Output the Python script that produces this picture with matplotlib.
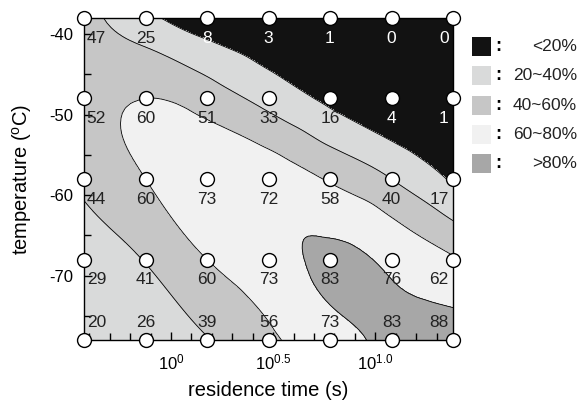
import numpy as np
import matplotlib
matplotlib.use('Agg')
from matplotlib import pyplot as plt
import matplotlib.tri as mtri
from matplotlib.patches import Rectangle
from matplotlib.ticker import MultipleLocator

plt.rcParams['font.family'] = ['Liberation Sans', 'DejaVu Sans']
plt.rcParams['mathtext.fontset'] = 'custom'
plt.rcParams['mathtext.rm'] = 'Liberation Sans'
plt.rcParams['mathtext.it'] = 'Liberation Sans:italic'
plt.rcParams['axes.unicode_minus'] = False

# residence time (s) and temperature (C) of the measured points
residence_time = [0.375, 0.75, 1.5, 3, 6, 12, 24]
temperature = [-38, -48, -58, -68, -78]
# yield (%) per temperature row (top to bottom) and residence time column
yield_pct = [
    [47, 25, 8, 3, 1, 0, 0],
    [52, 60, 51, 33, 16, 4, 1],
    [44, 60, 73, 72, 58, 40, 17],
    [29, 41, 60, 73, 83, 76, 62],
    [20, 26, 39, 56, 73, 83, 88],
]
levels = [-50, 20, 40, 60, 80, 150]
band_colors = ['#121212', '#d9dada', '#c6c6c6', '#f1f1f1', '#a7a7a7']
band_labels = ['<20%', '20~40%', '40~60%', '60~80%', '>80%']
xtick_pos = [0, 0.5, 1.0]
xtick_labels = [r'$\mathregular{10^{0}}$', r'$\mathregular{10^{0.5}}$', r'$\mathregular{10^{1.0}}$']

logt = np.log10(residence_time)
X, Y = np.meshgrid(logt, temperature)
Z = np.array(yield_pct, dtype=float)

# smooth surface through the measured points
triang = mtri.Triangulation(X.ravel(), Y.ravel())
interp = mtri.CubicTriInterpolator(triang, Z.ravel(), kind='min_E')
refiner = mtri.UniformTriRefiner(triang)
tri_fine, z_fine = refiner.refine_field(Z.ravel(), triinterpolator=interp, subdiv=4)

fig = plt.figure(figsize=(5.8, 4.03), dpi=100)
ax = fig.add_axes([84/580, 1 - 340/403, (453 - 84)/580, (340 - 18)/403])

ax.tricontourf(tri_fine, z_fine, levels=levels, colors=band_colors)
ax.tricontour(tri_fine, z_fine, levels=[20, 40, 60, 80], colors='black', linewidths=0.6)

ax.plot(X.ravel(), Y.ravel(), 'o', ms=10, mfc='white', mec='black', mew=1.0,
        clip_on=False, zorder=5)

# value labels (white where the label sits on the black band)
ncol = len(residence_time)
for i, t in enumerate(temperature):
    for j, lt in enumerate(logt):
        v = yield_pct[i][j]
        last_row = i == len(temperature) - 1
        dy = 12.5 if last_row else -14.5
        t_lab = t + (1.8 if last_row else -2.0)
        under = float(interp(lt, t_lab))
        col = 'white' if under < 20 else '#222222'
        if j == 0:
            ha, dx = 'left', 2
        elif j == ncol - 1:
            ha, dx = 'right', -3
        else:
            ha, dx = 'center', 0
        ax.annotate(str(v), (lt, t), xytext=(dx, dy), textcoords='offset points',
                    ha=ha, va='center', fontsize=12.5, color=col, zorder=6)

ax.set_xlim(logt[0], logt[-1])
ax.set_ylim(temperature[-1], temperature[0])
ax.set_xticks(xtick_pos)
ax.set_xticklabels(xtick_labels)
ax.xaxis.set_minor_locator(MultipleLocator(0.1))
ax.set_yticks([-40, -50, -60, -70])
ax.yaxis.set_minor_locator(MultipleLocator(5))
ax.tick_params(which='both', direction='in', top=False, right=False, labelsize=12)
ax.tick_params(which='major', length=6, width=1)
ax.tick_params(which='minor', length=5, width=1)
ax.tick_params(axis='y', pad=8)
ax.tick_params(axis='x', pad=9)
for s in ax.spines.values():
    s.set_linewidth(1)

fig.text(268/580, 1 - 390/403, 'residence time (s)', ha='center', va='center', fontsize=14.5)
fig.text(22/580, 1 - 179/403, r'temperature ($\mathregular{^o}$C)', ha='center', va='center',
         rotation=90, fontsize=14.5)

# legend
for k, (c, lab) in enumerate(zip(band_colors, band_labels)):
    yc = 46.5 + 29.3 * k
    fig.patches.append(Rectangle((472/580, 1 - (yc + 9.5)/403), 19/580, 19/403,
                                 transform=fig.transFigure, facecolor=c, edgecolor='none'))
    fig.text(498/580, 1 - yc/403, ':', ha='center', va='center', fontsize=13, fontweight='bold')
    fig.text(577/580, 1 - yc/403, lab, ha='right', va='center', fontsize=12.5, color='#222222')

fig.savefig('out.png', dpi=100)
